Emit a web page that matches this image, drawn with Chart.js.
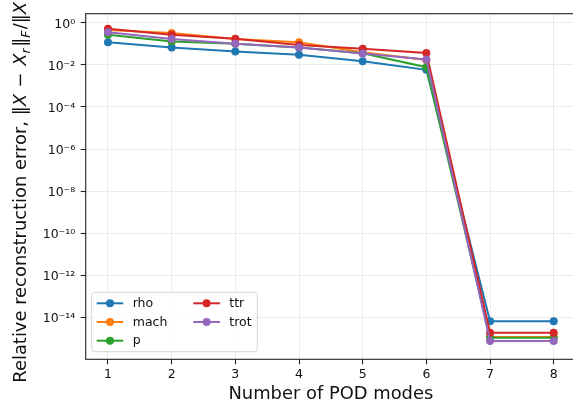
<!DOCTYPE html>
<html><head><meta charset="utf-8">
<script src="https://cdn.jsdelivr.net/npm/chart.js@4.4.1/dist/chart.umd.min.js"></script>
<style>html,body{margin:0;padding:0;background:#fff;overflow:hidden;width:573px;height:402px}#wrap{width:580px;height:402px}</style>
</head><body><div id="wrap"><canvas id="c" width="580" height="402"></canvas></div>
<script>
// ---- data ----
const modes = [1, 2, 3, 4, 5, 6, 7, 8];
const rho  = [0.118, 0.066, 0.043, 0.030, 0.015, 0.0058, 6.8e-15, 6.8e-15];
const mach = [0.45, 0.33, 0.17, 0.12, 0.040, 0.017, 1.2e-15, 1.2e-15];
const p    = [0.27, 0.13, 0.10, 0.066, 0.036, 0.0078, 1.1e-15, 1.1e-15];
const ttr  = [0.52, 0.27, 0.175, 0.089, 0.059, 0.037, 1.9e-15, 1.9e-15];
const trot = [0.35, 0.17, 0.10, 0.066, 0.035, 0.018, 7.8e-16, 7.8e-16];
const seriesNames = ['rho', 'mach', 'p', 'ttr', 'trot'];
const seriesColors = ['#1f77b4', '#ff7f0e', '#2ca02c', '#d62728', '#9467bd'];
const xTicks = [1, 2, 3, 4, 5, 6, 7, 8];
const xTickLabels = ['1', '2', '3', '4', '5', '6', '7', '8'];
const yTickExponents = [0, -2, -4, -6, -8, -10, -12, -14];
const yTickLabels = ['10⁰', '10⁻²', '10⁻⁴', '10⁻⁶', '10⁻⁸', '10⁻¹⁰', '10⁻¹²', '10⁻¹⁴'];
const xLabel = 'Number of POD modes';
// y label pieces: [text, italic, subscript]
const yLabelParts = [
  ['Relative reconstruction error, ', false, false],
  ['‖', false, false], ['X', true, false], [' − ', false, false],
  ['X', true, false], ['r', true, true], ['‖', false, false], ['F', true, true],
  ['/‖', false, false], ['X', true, false], ['‖', false, false], ['F', true, true]
];

const FONT = '"DejaVu Sans", sans-serif';
const seriesValues = [rho, mach, p, ttr, trot];

const datasets = seriesNames.map((name, i) => ({
  label: name,
  data: modes.map((m, j) => ({ x: m, y: seriesValues[i][j] })),
  borderColor: seriesColors[i],
  backgroundColor: seriesColors[i],
  pointBackgroundColor: seriesColors[i],
  pointBorderColor: seriesColors[i],
  pointBorderWidth: 0,
  pointRadius: 4,
  borderWidth: 2,
  tension: 0,
  order: seriesNames.length - i
}));

const framePlugin = {
  id: 'frame',
  afterDatasetsDraw(chart) {
    const { ctx, chartArea: a } = chart;
    ctx.save();
    ctx.strokeStyle = '#222';
    ctx.lineWidth = 1.1;
    ctx.strokeRect(a.left, a.top, a.right - a.left, a.bottom - a.top);
    ctx.restore();
  }
};

const legendPlugin = {
  id: 'mplLegend',
  afterDatasetsDraw(chart) {
    const ctx = chart.ctx;
    const x0 = 91.7, y0 = 292.3, w = 165.6, h = 59.4, r = 3;
    ctx.save();
    ctx.beginPath();
    ctx.roundRect(x0, y0, w, h, r);
    ctx.fillStyle = 'rgba(255,255,255,0.8)';
    ctx.fill();
    ctx.strokeStyle = '#d4d4d4';
    ctx.lineWidth = 1;
    ctx.stroke();
    const colX = [96.7, 193.3];
    const rowY = [303.3, 322.0, 340.7];
    ctx.font = '12.5px ' + FONT;
    ctx.textBaseline = 'middle';
    ctx.textAlign = 'left';
    chart.data.datasets.forEach((ds, i) => {
      const col = i < 3 ? 0 : 1;
      const row = i < 3 ? i : i - 3;
      const lx = colX[col], ly = rowY[row];
      ctx.strokeStyle = ds.borderColor;
      ctx.lineWidth = 2;
      ctx.beginPath();
      ctx.moveTo(lx, ly);
      ctx.lineTo(lx + 26.6, ly);
      ctx.stroke();
      ctx.fillStyle = ds.borderColor;
      ctx.beginPath();
      ctx.arc(lx + 13.3, ly, 4, 0, Math.PI * 2);
      ctx.fill();
      ctx.fillStyle = '#111';
      ctx.fillText(ds.label, lx + 36, ly + 0.5);
    });
    ctx.restore();
  }
};

const titlesPlugin = {
  id: 'titles',
  afterDraw(chart) {
    const { ctx, chartArea: a } = chart;
    ctx.save();
    ctx.fillStyle = '#111';
    ctx.font = '17.9px ' + FONT;
    ctx.textAlign = 'center';
    ctx.textBaseline = 'alphabetic';
    ctx.fillText(xLabel, (a.left + a.right) / 2, 399);
    // y label with math pieces, centred on the axes like matplotlib
    const fontFor = (it, sub) => (it ? 'oblique ' : '') + (sub ? '12.5px ' : '17.9px ') + FONT;
    const gap = (t, sub) => (sub ? 1.5 : (t === ' − ' ? 2 : 0));
    let total = 0;
    const widths = yLabelParts.map(([t, it, sub]) => {
      ctx.font = fontFor(it, sub);
      const wd = ctx.measureText(t).width + gap(t, sub);
      total += wd;
      return wd;
    });
    const cy = (a.top + a.bottom) / 2 - 3;
    ctx.translate(26, cy);
    ctx.rotate(-Math.PI / 2);
    ctx.textAlign = 'left';
    let x = -total / 2;
    yLabelParts.forEach(([t, it, sub], i) => {
      ctx.font = fontFor(it, sub);
      ctx.fillText(t, x + (t === ' − ' ? 1 : 0), sub ? 4 : 0);
      x += widths[i];
    });
    ctx.restore();
  }
};

new Chart(document.getElementById('c'), {
  type: 'line',
  data: { datasets },
  options: {
    responsive: false,
    animation: false,
    devicePixelRatio: 1,
    layout: { padding: { left: 0, top: 13.7, right: 1.3, bottom: 0 } },
    plugins: { legend: { display: false }, tooltip: { enabled: false } },
    scales: {
      x: {
        type: 'linear',
        min: 0.65,
        max: 8.35,
        afterFit(s) { s.height = 42.7; },
        afterBuildTicks(s) { s.ticks = xTicks.map(v => ({ value: v })); },
        border: { display: false },
        grid: { color: '#ebebeb', lineWidth: 1, tickColor: '#222', tickLength: 5, tickWidth: 1.1 },
        ticks: {
          padding: 3, color: '#111', maxRotation: 0, autoSkip: false,
          font: { family: FONT, size: 12.5 },
          callback: (v, i) => xTickLabels[i]
        }
      },
      y: {
        type: 'logarithmic',
        min: Math.pow(10, -15.98),
        max: Math.pow(10, 0.43),
        afterFit(s) { s.width = 85.7; },
        afterBuildTicks(s) { s.ticks = yTickExponents.map(e => ({ value: Math.pow(10, e) })); },
        border: { display: false },
        grid: { color: '#ebebeb', lineWidth: 1, tickColor: '#222', tickLength: 5, tickWidth: 1.1 },
        ticks: {
          padding: 5.5, color: '#111', autoSkip: false, labelOffset: 1.5,
          font: { family: FONT, size: 12.5 },
          callback: (v, i) => yTickLabels[i]
        }
      }
    }
  },
  plugins: [framePlugin, legendPlugin, titlesPlugin]
});
</script>
</body></html>
